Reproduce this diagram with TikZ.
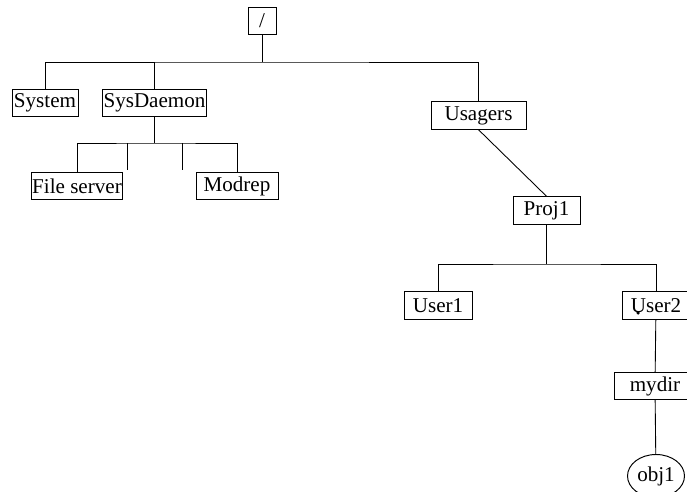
\documentclass[tikz,border=0pt]{standalone}
\usepackage{fontspec}
\setmainfont{Liberation Serif}
\usetikzlibrary{shapes.geometric}
\tikzset{
  dirbox/.style={draw, line width=0.55pt, minimum height=0.55cm, inner xsep=0.5pt, inner ysep=1pt},
  objnode/.style={draw, line width=0.55pt, ellipse, minimum width=1.14cm, minimum height=0.86cm, inner sep=0pt},
  link/.style={line width=0.5pt}
}
\begin{document}
\begin{tikzpicture}[x=0.02cm, y=-0.02cm, font=\fontsize{12}{14}\selectfont]
                \useasboundingbox (0,0) rectangle (687,492);
                \clip (0,0) rectangle (687,492);
                % directory boxes
                \node[dirbox, minimum width=0.56cm] (root) at (262,21) {/};
                \node[dirbox, minimum width=1.32cm] (system) at (45,103) {System};
                \node[dirbox, minimum width=1.9cm] (sysdaemon) at (154.5,103) {SysDaemon};
                \node[dirbox, minimum width=1.8cm] (fileserver) at (77,186) {File server};
                \node[dirbox, minimum width=1.64cm] (modrep) at (237,186) {Modrep};
                \node[dirbox, minimum width=1.9cm] (usagers) at (478.5,115.5) {Usagers};
                \node[dirbox, minimum width=1.34cm] (proj1) at (546.5,210.5) {Proj1};
                \node[dirbox, minimum width=1.36cm] (user1) at (438,305.5) {User1};
                \node[dirbox, minimum width=1.36cm] (user2) at (656,305.5) {User2};
                \node[dirbox, minimum width=1.64cm] (mydir) at (655,386) {mydir};
                \node[objnode] (obj1) at (656,476) {obj1};
                \fill (638,313) circle (1pt);
                % tree links
                \coordinate (rootbar) at (262,62);
                \draw[link] (root) -- (rootbar);
                \draw[link] (system.north) |- (rootbar) -| (usagers.north);
                \draw[link] (sysdaemon.north) -- (sysdaemon.north |- rootbar);
                \coordinate (sdbar) at (154.5,143);
                \draw[link] (sysdaemon) -- (sdbar);
                \draw[link] (fileserver.north) |- (sdbar) -| (modrep.north);
                \foreach \x/\n in {127/a, 182/b} {
                    \coordinate (stub\n) at (\x,170);
                    \draw[link] (stub\n) -- (stub\n |- sdbar);
                }
                \draw[link] (usagers.south) -- (proj1.north);
                \coordinate (projbar) at (546.5,264);
                \draw[link] (proj1) -- (projbar);
                \draw[link] (user1.north) |- (projbar) -| (user2.north);
                \draw[link] (user2) -- (mydir);
                \draw[link] (mydir) -- (obj1);
            \end{tikzpicture}
\end{document}
